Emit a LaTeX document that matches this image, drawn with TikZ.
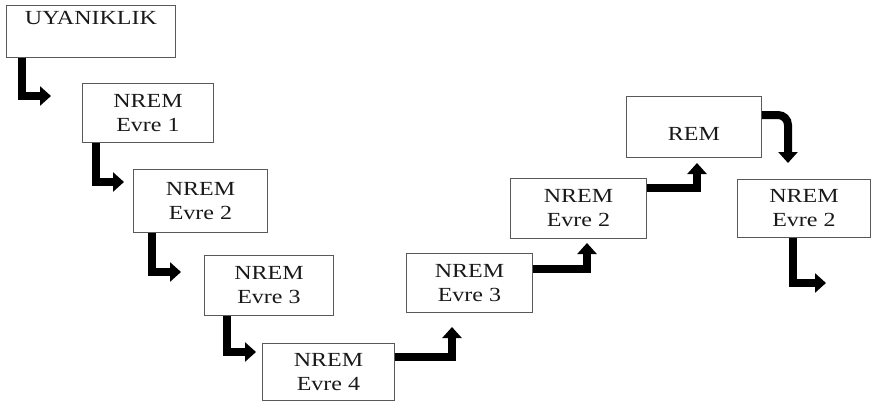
\documentclass[tikz,border=0pt]{standalone}
\usepackage{fontspec}
\setmainfont{Liberation Serif}[FakeStretch=1.2]
\usetikzlibrary{arrows.meta}
\begin{document}
\begin{tikzpicture}[x=1pt,y=-1pt,
  box/.style={draw=black!65,line width=0.9pt,anchor=north west,align=center,inner sep=0pt,
    font=\fontsize{20}{24}\selectfont,text=black!90},
  conn/.style={line width=8pt,-{Triangle[length=11pt,width=19pt]},black}]
\useasboundingbox (0,0) rectangle (872,402);
\node[box,minimum width=169pt,minimum height=52pt,
  label={[anchor=north,font=\fontsize{20}{24}\selectfont,text=black!90,inner sep=0pt,yshift=-6pt]north:UYANIKLIK}] (w) at (6,5) {};
\node[box,minimum width=131pt,minimum height=59pt] (e1) at (82,83) {NREM\\Evre 1};
\node[box,minimum width=134pt,minimum height=63pt] (e2) at (133,169) {NREM\\Evre 2};
\node[box,minimum width=129pt,minimum height=60pt] (e3) at (204,255) {NREM\\Evre 3};
\node[box,minimum width=132pt,minimum height=57pt] (e4) at (262,343) {NREM\\Evre 4};
\node[box,minimum width=126pt,minimum height=59pt] (f3) at (406,253) {NREM\\Evre 3};
\node[box,minimum width=136pt,minimum height=60pt] (f2) at (510,178) {NREM\\Evre 2};
\node[box,minimum width=135pt,minimum height=61pt] (rem) at (626,96) {\raisebox{-14pt}[0pt][0pt]{REM}};
\node[box,minimum width=133pt,minimum height=58pt] (g2) at (737,179) {NREM\\Evre 2};
\coordinate (t1) at (51,96);
\coordinate (t2) at (124,182);
\coordinate (t3) at (181,272);
\coordinate (t4) at (256,352);
\coordinate (t5) at (452,327);
\coordinate (t6) at (587,243);
\coordinate (t7) at (697,163);
\coordinate (t8) at (788,163);
\coordinate (t9) at (826,283);
\draw[conn] ([xshift=16pt]w.south west) |- (t1);
\draw[conn] ([xshift=14pt]e1.south west) |- (t2);
\draw[conn] ([xshift=19pt]e2.south west) |- (t3);
\draw[conn] ([xshift=23pt]e3.south west) |- (t4);
\draw[conn] (e4.east |- 0,357) -| (t5);
\draw[conn] (f3.east |- 0,269) -| (t6);
\draw[conn] (f2.east |- 0,188) -| (t7);
\draw[conn,rounded corners=10pt] (rem.east |- 0,115) -| (t8);
\draw[conn] ([xshift=56pt]g2.south west) |- (t9);
\end{tikzpicture}
\end{document}
